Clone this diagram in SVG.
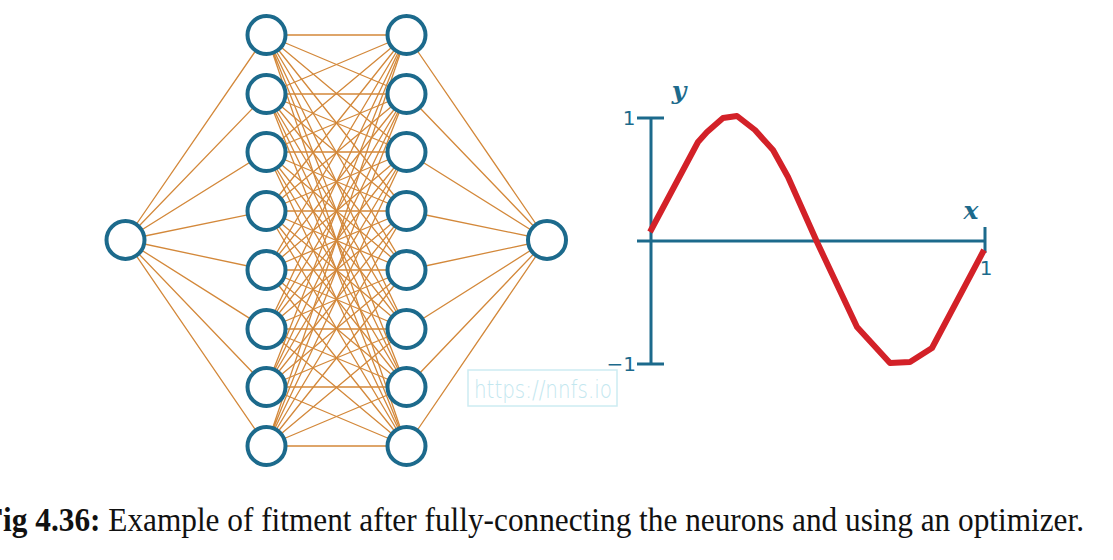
<svg xmlns="http://www.w3.org/2000/svg" width="1113" height="560" viewBox="0 0 1113 560">
<style>
.c{stroke:#d3883a;stroke-width:1.3;fill:none}
.n{fill:#fff;stroke:#1c6a8c;stroke-width:4}
.ax{stroke:#1c6a8c;stroke-width:3;fill:none}
.num{font-family:"DejaVu Sans",sans-serif;font-size:20px;fill:#1c6a8c}
.lab{font-family:"DejaVu Serif",serif;font-style:italic;font-weight:bold;font-size:25px;fill:#1c6a8c}
</style>
<rect width="1113" height="560" fill="#fff"/>
<g id="connectors">
<path class="c" d="M125.5 240L266.5 35M125.5 240L266.5 94M125.5 240L266.5 152M125.5 240L266.5 211M125.5 240L266.5 270M125.5 240L266.5 329M125.5 240L266.5 387M125.5 240L266.5 446"/>
<path class="c" d="M266.5 35L406.5 35M266.5 35L406.5 94M266.5 35L406.5 152M266.5 35L406.5 211M266.5 35L406.5 270M266.5 35L406.5 329M266.5 35L406.5 387M266.5 35L406.5 446"/>
<path class="c" d="M266.5 94L406.5 35M266.5 94L406.5 94M266.5 94L406.5 152M266.5 94L406.5 211M266.5 94L406.5 270M266.5 94L406.5 329M266.5 94L406.5 387M266.5 94L406.5 446"/>
<path class="c" d="M266.5 152L406.5 35M266.5 152L406.5 94M266.5 152L406.5 152M266.5 152L406.5 211M266.5 152L406.5 270M266.5 152L406.5 329M266.5 152L406.5 387M266.5 152L406.5 446"/>
<path class="c" d="M266.5 211L406.5 35M266.5 211L406.5 94M266.5 211L406.5 152M266.5 211L406.5 211M266.5 211L406.5 270M266.5 211L406.5 329M266.5 211L406.5 387M266.5 211L406.5 446"/>
<path class="c" d="M266.5 270L406.5 35M266.5 270L406.5 94M266.5 270L406.5 152M266.5 270L406.5 211M266.5 270L406.5 270M266.5 270L406.5 329M266.5 270L406.5 387M266.5 270L406.5 446"/>
<path class="c" d="M266.5 329L406.5 35M266.5 329L406.5 94M266.5 329L406.5 152M266.5 329L406.5 211M266.5 329L406.5 270M266.5 329L406.5 329M266.5 329L406.5 387M266.5 329L406.5 446"/>
<path class="c" d="M266.5 387L406.5 35M266.5 387L406.5 94M266.5 387L406.5 152M266.5 387L406.5 211M266.5 387L406.5 270M266.5 387L406.5 329M266.5 387L406.5 387M266.5 387L406.5 446"/>
<path class="c" d="M266.5 446L406.5 35M266.5 446L406.5 94M266.5 446L406.5 152M266.5 446L406.5 211M266.5 446L406.5 270M266.5 446L406.5 329M266.5 446L406.5 387M266.5 446L406.5 446"/>
<path class="c" d="M406.5 35L547 240M406.5 94L547 240M406.5 152L547 240M406.5 211L547 240M406.5 270L547 240M406.5 329L547 240M406.5 387L547 240M406.5 446L547 240"/>
</g>
<g id="input"><circle class="n" cx="125.5" cy="240" r="19"/></g>
<g id="h1-1"><circle class="n" cx="266.5" cy="35" r="19"/></g>
<g id="h1-2"><circle class="n" cx="266.5" cy="94" r="19"/></g>
<g id="h1-3"><circle class="n" cx="266.5" cy="152" r="19"/></g>
<g id="h1-4"><circle class="n" cx="266.5" cy="211" r="19"/></g>
<g id="h1-5"><circle class="n" cx="266.5" cy="270" r="19"/></g>
<g id="h1-6"><circle class="n" cx="266.5" cy="329" r="19"/></g>
<g id="h1-7"><circle class="n" cx="266.5" cy="387" r="19"/></g>
<g id="h1-8"><circle class="n" cx="266.5" cy="446" r="19"/></g>
<g id="h2-1"><circle class="n" cx="406.5" cy="35" r="19"/></g>
<g id="h2-2"><circle class="n" cx="406.5" cy="94" r="19"/></g>
<g id="h2-3"><circle class="n" cx="406.5" cy="152" r="19"/></g>
<g id="h2-4"><circle class="n" cx="406.5" cy="211" r="19"/></g>
<g id="h2-5"><circle class="n" cx="406.5" cy="270" r="19"/></g>
<g id="h2-6"><circle class="n" cx="406.5" cy="329" r="19"/></g>
<g id="h2-7"><circle class="n" cx="406.5" cy="387" r="19"/></g>
<g id="h2-8"><circle class="n" cx="406.5" cy="446" r="19"/></g>
<g id="output"><circle class="n" cx="547" cy="240" r="19"/></g>
<g id="watermark">
<rect x="468" y="370" width="149" height="36" fill="none" stroke="#cdecf2" stroke-width="1.5"/>
<text x="474" y="398" font-family="'DejaVu Sans',sans-serif" font-weight="200" font-size="25" fill="#c3e7ef" textLength="138" lengthAdjust="spacingAndGlyphs">https://nnfs.io</text>
</g>
<g id="plot">
<path class="ax" d="M651 118V364M637 118H664M637 364H664M637 241H986M985 227V253"/>
<text class="num" x="629" y="125" text-anchor="middle">1</text>
<text class="num" x="636" y="371" text-anchor="end">−1</text>
<text class="num" x="986" y="275" text-anchor="middle">1</text>
<text class="lab" x="679" y="99" text-anchor="middle">y</text>
<text class="lab" x="971" y="219" text-anchor="middle">x</text>
<polyline fill="none" stroke="#d32128" stroke-width="6" stroke-linejoin="round" points="650,232 698,142 707,132 723,118 737,116 755,130 763,139 773,150 788,177 817,242 857,327 890,363 910,362 932,348 984,250"/>
</g>
<text x="-16" y="531" font-family="'Liberation Serif',serif" font-size="33" fill="#111" textLength="1100" lengthAdjust="spacingAndGlyphs"><tspan font-weight="bold">Fig 4.36:</tspan> Example of fitment after fully-connecting the neurons and using an optimizer.</text>
</svg>
